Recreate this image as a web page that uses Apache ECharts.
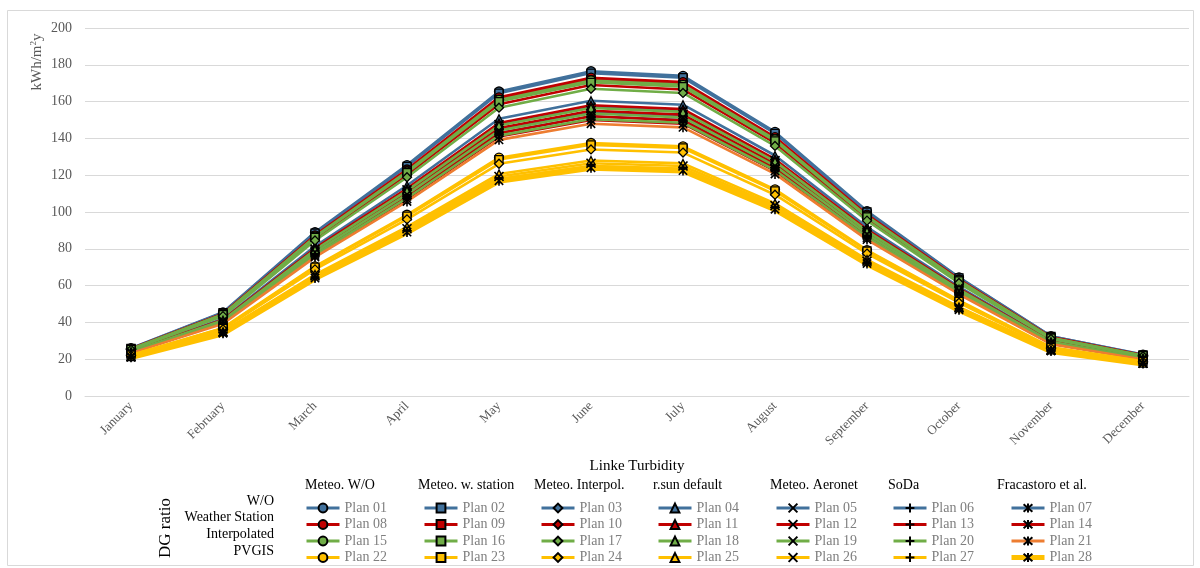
<!DOCTYPE html>
<html>
<head>
<meta charset="utf-8">
<script src="https://cdn.jsdelivr.net/npm/echarts@6/dist/echarts.min.js"></script>
<style>
  html, body { margin: 0; padding: 0; background: #fff; }
  #chart { width: 1200px; height: 568px; }
</style>
</head>
<body>
<div id="chart"></div>
<script>
// Monthly irradiation (kWh/m²) for 28 model plans
const months = ['January', 'February', 'March', 'April', 'May', 'June', 'July', 'August', 'September', 'October', 'November', 'December'];

// Row: DG ratio = W/O
const plan01 = [26.0, 45.5, 89.0, 125.5, 165.5, 176.5, 174.0, 143.5, 100.5, 64.5, 32.5, 22.5];
const plan02 = [25.9, 45.3, 88.5, 124.8, 164.6, 175.5, 173.0, 142.7, 100.0, 64.2, 32.4, 22.4];
const plan03 = [25.6, 44.5, 86.9, 122.4, 161.3, 172.0, 169.6, 139.9, 98.0, 63.0, 31.8, 22.1];
const plan04 = [24.5, 42.0, 81.4, 114.4, 150.7, 160.5, 158.3, 130.7, 91.8, 59.3, 30.1, 21.0];
const plan05 = [24.2, 41.3, 79.8, 112.0, 147.5, 157.0, 154.9, 127.9, 89.9, 58.2, 29.6, 20.7];
const plan06 = [23.9, 40.6, 78.3, 109.9, 144.7, 154.0, 151.9, 125.5, 88.3, 57.2, 29.1, 20.4];
const plan07 = [23.7, 40.2, 77.4, 108.5, 142.9, 152.0, 150.0, 123.9, 87.2, 56.6, 28.8, 20.2];
// Row: DG ratio = Weather Station
const plan08 = [25.7, 44.7, 87.3, 123.1, 162.3, 173.0, 170.6, 140.7, 98.6, 63.4, 32.0, 22.2];
const plan09 = [25.6, 44.6, 86.8, 122.3, 161.2, 171.8, 169.4, 139.8, 97.9, 63.0, 31.8, 22.1];
const plan10 = [25.3, 43.9, 85.4, 120.3, 158.6, 169.0, 166.6, 137.5, 96.4, 62.1, 31.3, 21.8];
const plan11 = [24.3, 41.5, 80.2, 112.7, 148.4, 158.0, 155.9, 128.7, 90.5, 58.5, 29.8, 20.8];
const plan12 = [24.0, 40.8, 78.8, 110.6, 145.6, 155.0, 152.9, 126.3, 88.8, 57.5, 29.3, 20.5];
const plan13 = [23.7, 40.3, 77.5, 108.4, 142.8, 152.0, 149.8, 123.8, 87.3, 56.5, 28.8, 20.2];
const plan14 = [23.5, 39.8, 76.4, 107.1, 141.0, 150.0, 148.0, 122.3, 86.1, 55.9, 28.5, 20.0];
// Row: DG ratio = Interpolated
const plan15 = [25.5, 44.4, 86.6, 122.0, 160.9, 171.5, 169.1, 139.5, 97.8, 62.9, 31.7, 22.0];
const plan16 = [25.4, 44.2, 86.2, 121.4, 160.0, 170.5, 168.1, 138.7, 97.3, 62.6, 31.5, 21.9];
const plan17 = [25.1, 43.4, 84.5, 118.9, 156.7, 167.0, 164.7, 135.9, 95.3, 61.4, 31.0, 21.6];
const plan18 = [24.1, 41.2, 79.5, 111.6, 147.0, 156.5, 154.4, 127.5, 89.6, 58.0, 29.5, 20.6];
const plan19 = [23.8, 40.5, 78.1, 109.6, 144.3, 153.5, 151.4, 125.1, 88.0, 57.0, 29.0, 20.3];
const plan20 = [23.6, 39.9, 76.7, 107.5, 141.5, 150.5, 148.5, 122.7, 86.4, 56.1, 28.6, 20.1];
const plan21 = [23.3, 39.3, 75.5, 105.7, 139.2, 148.0, 146.0, 120.7, 85.0, 55.3, 28.2, 19.8];
// Row: DG ratio = PVGIS
const plan22 = [22.3, 37.0, 70.5, 98.5, 129.5, 137.5, 135.7, 112.3, 79.3, 51.9, 26.5, 18.8];
const plan23 = [22.2, 36.8, 70.0, 97.8, 128.5, 136.5, 134.8, 111.5, 78.8, 51.5, 26.3, 18.7];
const plan24 = [22.0, 36.3, 68.8, 96.0, 126.2, 134.0, 132.3, 109.4, 77.4, 50.7, 26.0, 18.5];
const plan25 = [21.4, 35.0, 66.0, 91.9, 120.7, 128.0, 126.4, 104.7, 74.1, 48.4, 25.1, 17.9];
const plan26 = [21.3, 34.7, 65.3, 90.9, 119.3, 126.5, 125.0, 103.5, 73.3, 47.9, 24.9, 17.8];
const plan27 = [21.2, 34.3, 64.6, 89.8, 117.9, 125.0, 123.5, 102.3, 72.5, 47.4, 24.7, 17.6];
const plan28 = [21.1, 34.1, 64.1, 89.1, 117.0, 124.0, 122.5, 101.5, 72.0, 46.9, 24.5, 17.6];

const planValues = [
  plan01, plan02, plan03, plan04, plan05, plan06, plan07,
  plan08, plan09, plan10, plan11, plan12, plan13, plan14,
  plan15, plan16, plan17, plan18, plan19, plan20, plan21,
  plan22, plan23, plan24, plan25, plan26, plan27, plan28
];

const linkeTurbidity = ['Meteo. W/O', 'Meteo. w. station', 'Meteo. Interpol.', 'r.sun default', 'Meteo. Aeronet', 'SoDa', 'Fracastoro et al.'];
const dgRatio = ['W/O', 'Weather Station', 'Interpolated', 'PVGIS'];
const yTicks = [0, 20, 40, 60, 80, 100, 120, 140, 160, 180, 200];

// ---- styling ----
const FONT = '"Liberation Serif", "DejaVu Serif", serif';
const rowColors = ['#41719C', '#C00000', '#70AD47', '#FFC000'];
const markerPaths = {
  cross: 'path://M0,0L10,10M10,0L0,10',
  plus: 'path://M5,0L5,10M0,5L10,5',
  star: 'path://M0,0L10,10M10,0L0,10M5,-1L5,11'
};
const colSymbols = ['circle', 'rect', 'diamond', 'triangle', markerPaths.cross, markerPaths.plus, markerPaths.star];
const colSizes = [9, 8, 9, 8, 9, 9, 10];

const planName = i => 'Plan ' + String(i + 1).padStart(2, '0');
const lineWidthOf = i => (i === 27 ? 6 : 2.6);

const series = planValues.map((vals, i) => {
  const row = Math.floor(i / 7);
  const col = i % 7;
  let color = rowColors[row];
  if (i === 20) color = '#ED7D31';
  const open = col >= 4;
  return {
    name: planName(i),
    type: 'line',
    data: vals,
    symbol: colSymbols[col],
    symbolSize: colSizes[col],
    symbolKeepAspect: true,
    showAllSymbol: true,
    lineStyle: { color: color, width: lineWidthOf(i) },
    itemStyle: {
      color: open ? 'rgba(0,0,0,0)' : color,
      borderColor: '#000',
      borderWidth: open ? 1.6 : 1.3
    },
    emphasis: { disabled: true }
  };
});

// one legend column per Linke turbidity option
const legendLeft = [305, 423, 540, 657, 775, 892, 1009];
const legends = legendLeft.map((x, c) => ({
  orient: 'vertical',
  left: x,
  top: 500,
  height: 90,
  padding: 0,
  itemWidth: 33,
  itemHeight: 11,
  itemGap: 0.5,
  selectedMode: false,
  data: [0, 7, 14, 21].map(r => ({
    name: planName(r + c),
    lineStyle: { width: r + c === 27 ? 5 : 3 }
  })),
  textStyle: { fontFamily: FONT, fontSize: 14, lineHeight: 16, color: '#7F7F7F' }
}));

const headerLeft = [305, 418, 534, 653, 770, 888, 997];
const rowLabelY = [501, 517, 534, 551];

const graphics = [
  {
    type: 'rect',
    shape: { x: 7.5, y: 10.5, width: 1186, height: 555 },
    style: { fill: 'none', stroke: '#D9D9D9', lineWidth: 1 },
    silent: true
  },
  {
    type: 'text',
    x: 37, y: 62,
    rotation: Math.PI / 2,
    style: {
      text: 'kWh/m{s|2}y',
      rich: { s: { fontSize: 9, verticalAlign: 'top', fontFamily: FONT, fill: '#595959', padding: [0, 0, 6, 0] } },
      fontFamily: FONT, fontSize: 15, fill: '#595959',
      textAlign: 'center', textVerticalAlign: 'middle'
    }
  },
  {
    type: 'text',
    x: 166, y: 528,
    rotation: Math.PI / 2,
    style: {
      text: 'DG ratio', fontFamily: FONT, fontSize: 17, fill: '#000',
      textAlign: 'center', textVerticalAlign: 'middle'
    }
  }
];
linkeTurbidity.forEach((t, c) => {
  graphics.push({
    type: 'text', x: headerLeft[c], y: 485,
    style: { text: t, fontFamily: FONT, fontSize: 14, fill: '#000', textAlign: 'left', textVerticalAlign: 'middle' }
  });
});
dgRatio.forEach((t, r) => {
  graphics.push({
    type: 'text', x: 274, y: rowLabelY[r],
    style: { text: t, fontFamily: FONT, fontSize: 14, fill: '#000', textAlign: 'right', textVerticalAlign: 'middle' }
  });
});

const chart = echarts.init(document.getElementById('chart'), null, { renderer: 'canvas' });
chart.setOption({
  animation: false,
  backgroundColor: '#fff',
  grid: { left: 85, right: 11, top: 28, bottom: 172 },
  xAxis: {
    type: 'category',
    data: months,
    boundaryGap: true,
    axisTick: { show: false },
    axisLine: { lineStyle: { color: '#D9D9D9' } },
    axisLabel: { rotate: 45, margin: 8, fontFamily: FONT, fontSize: 13, color: '#595959' },
    name: 'Linke Turbidity',
    nameLocation: 'middle',
    nameGap: 63,
    nameTextStyle: { fontFamily: FONT, fontSize: 15, color: '#000' }
  },
  yAxis: {
    type: 'value',
    min: yTicks[0],
    max: yTicks[yTicks.length - 1],
    interval: yTicks[1] - yTicks[0],
    axisLine: { show: false },
    axisTick: { show: false },
    splitLine: { lineStyle: { color: '#D9D9D9', width: 1 } },
    axisLabel: { margin: 13, fontFamily: FONT, fontSize: 14, color: '#595959' }
  },
  legend: legends,
  graphic: graphics,
  series: series
});
</script>
</body>
</html>
